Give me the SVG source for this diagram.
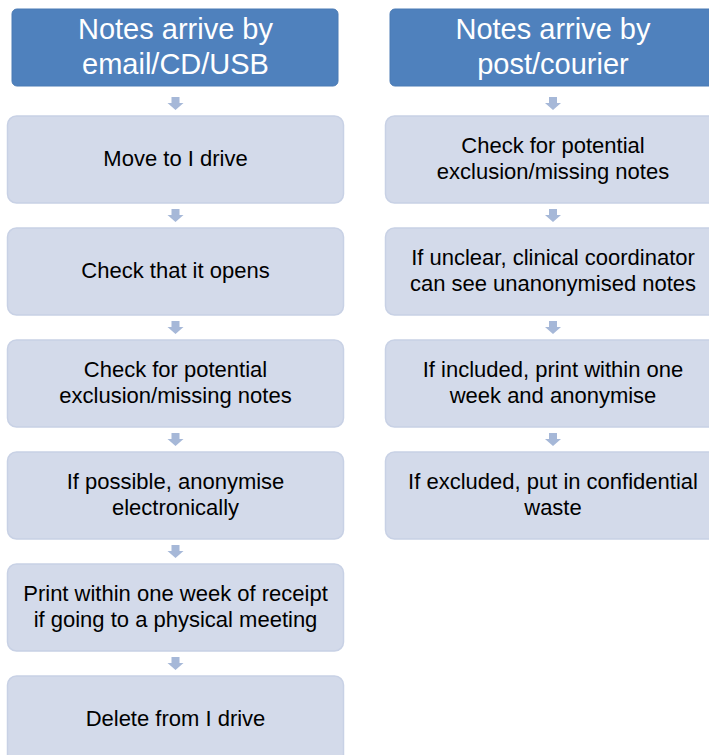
<svg xmlns="http://www.w3.org/2000/svg" width="709" height="755" viewBox="0 0 709 755">
<defs>
<style>
.hdr{fill:#4F81BD;stroke:#4A7AB4;stroke-width:1}
.box{fill:#D3DAEA;stroke:#C8D1E5;stroke-width:1.5}
.arr{fill:#A6B8D8}
.ht{font-family:"Liberation Sans",Arial,sans-serif;font-size:29px;fill:#ffffff;text-anchor:middle}
.bt{font-family:"Liberation Sans",Arial,sans-serif;font-size:22px;fill:#000000;text-anchor:middle}
</style>
<path id="dn" d="M-4,0 h8 v6 h4 l-8,7 l-8,-7 h4 z"/>
</defs>
<rect width="709" height="755" fill="#ffffff"/>
<g id="connectors">
<use href="#dn" class="arr" x="175.5" y="97"/>
<use href="#dn" class="arr" x="175.5" y="209"/>
<use href="#dn" class="arr" x="175.5" y="321"/>
<use href="#dn" class="arr" x="175.5" y="433"/>
<use href="#dn" class="arr" x="175.5" y="545"/>
<use href="#dn" class="arr" x="175.5" y="657"/>
<use href="#dn" class="arr" x="553" y="97"/>
<use href="#dn" class="arr" x="553" y="209"/>
<use href="#dn" class="arr" x="553" y="321"/>
<use href="#dn" class="arr" x="553" y="433"/>
</g>
<g id="h1"><rect class="hdr" x="12" y="9" width="326" height="77" rx="5"/><text class="ht" x="175.5" y="39">Notes arrive by</text><text class="ht" x="175.5" y="74">email/CD/USB</text></g>
<g id="h2"><rect class="hdr" x="390" y="9" width="326" height="77" rx="5"/><text class="ht" x="553" y="39">Notes arrive by</text><text class="ht" x="553" y="74">post/courier</text></g>
<g id="l1"><rect class="box" x="7.5" y="116" width="336" height="87" rx="9"/><text class="bt" x="175.5" y="166">Move to I drive</text></g>
<g id="l2"><rect class="box" x="7.5" y="228" width="336" height="87" rx="9"/><text class="bt" x="175.5" y="278">Check that it opens</text></g>
<g id="l3"><rect class="box" x="7.5" y="340" width="336" height="87" rx="9"/><text class="bt" x="175.5" y="377">Check for potential</text><text class="bt" x="175.5" y="403">exclusion/missing notes</text></g>
<g id="l4"><rect class="box" x="7.5" y="452" width="336" height="87" rx="9"/><text class="bt" x="175.5" y="489">If possible, anonymise</text><text class="bt" x="175.5" y="515">electronically</text></g>
<g id="l5"><rect class="box" x="7.5" y="564" width="336" height="87" rx="9"/><text class="bt" x="175.5" y="601">Print within one week of receipt</text><text class="bt" x="175.5" y="627">if going to a physical meeting</text></g>
<g id="l6"><rect class="box" x="7.5" y="676" width="336" height="87" rx="9"/><text class="bt" x="175.5" y="726">Delete from I drive</text></g>
<g id="r1"><rect class="box" x="385.5" y="116" width="336" height="87" rx="9"/><text class="bt" x="553" y="153">Check for potential</text><text class="bt" x="553" y="179">exclusion/missing notes</text></g>
<g id="r2"><rect class="box" x="385.5" y="228" width="336" height="87" rx="9"/><text class="bt" x="553" y="265">If unclear, clinical coordinator</text><text class="bt" x="553" y="291">can see unanonymised notes</text></g>
<g id="r3"><rect class="box" x="385.5" y="340" width="336" height="87" rx="9"/><text class="bt" x="553" y="377">If included, print within one</text><text class="bt" x="553" y="403">week and anonymise</text></g>
<g id="r4"><rect class="box" x="385.5" y="452" width="336" height="87" rx="9"/><text class="bt" x="553" y="489">If excluded, put in confidential</text><text class="bt" x="553" y="515">waste</text></g>
</svg>
